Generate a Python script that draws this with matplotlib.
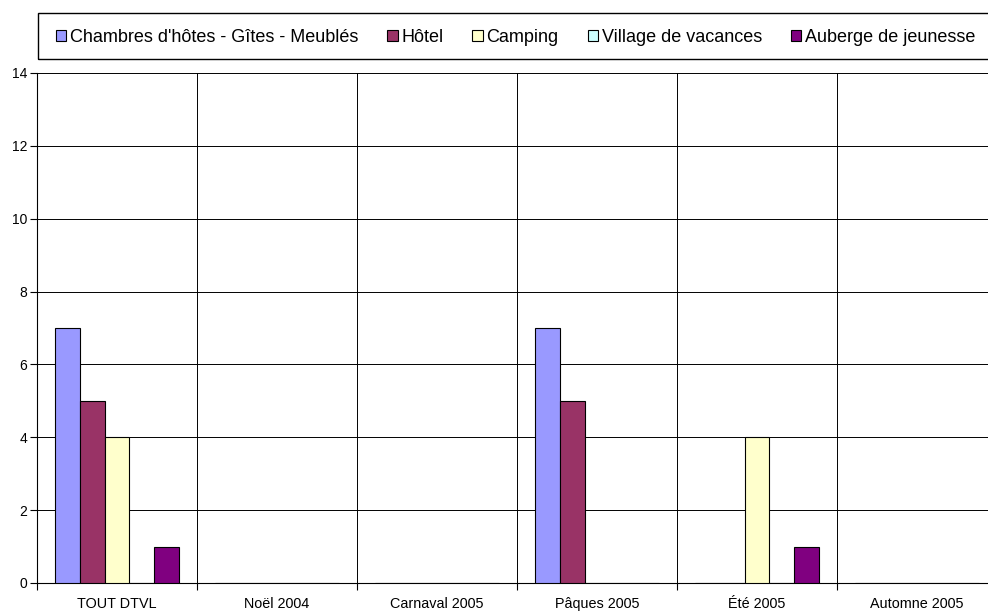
import numpy as np
import matplotlib
matplotlib.use('Agg')
import matplotlib.pyplot as plt
from matplotlib.patches import Rectangle, Patch

plt.rcParams['font.family'] = ['Liberation Sans', 'DejaVu Sans']

categories = ['TOUT DTVL', 'Noël 2004', 'Carnaval 2005', 'Pâques 2005', 'Été 2005', 'Automne 2005']
series_names = ['Chambres d\'hôtes - Gîtes - Meublés', 'Hôtel', 'Camping',
                'Village de vacances', 'Auberge de jeunesse']
chambres = [7, 0, 0, 7, 0, 0]
hotel = [5, 0, 0, 5, 0, 0]
camping = [4, 0, 0, 0, 4, 0]
village = [0, 0, 0, 0, 0, 0]
auberge = [1, 0, 0, 0, 1, 0]
colors = ['#9999FF', '#993366', '#FFFFCC', '#CCFFFF', '#800080']

all_series = [chambres, hotel, camping, village, auberge]

fig = plt.figure(figsize=(9.88, 6.11), dpi=100)
W, H = 988.0, 611.0
ax = fig.add_axes([37 / W, 1 - 583 / H, 960 / W, 510 / H])

n = len(categories)
x = np.arange(n)
bw = 1 / 6.5
start = x + 0.75 / 6.5
for j, vals in enumerate(all_series):
    ax.bar(start + j * bw, vals, width=bw, align='edge', color=colors[j],
           edgecolor='black', linewidth=0.8, zorder=3)

ax.set_xlim(0, n)
ax.set_ylim(0, 14)
ax.set_yticks(np.arange(0, 15, 2))
ax.set_xticks(x + 0.5)
ax.set_xticklabels(categories)
ax.set_xticks(np.arange(0, n + 1), minor=True)
ax.tick_params(axis='x', which='major', length=0, labelsize=10.4, pad=10)
ax.tick_params(axis='x', which='minor', length=5, width=0.8, direction='out')
ax.tick_params(axis='y', length=5, width=0.8, labelsize=10, pad=2)
ax.grid(axis='y', which='major', color='black', linewidth=0.7, zorder=0)
ax.grid(axis='x', which='minor', color='black', linewidth=0.7, zorder=0)
for s in ['top', 'right']:
    ax.spines[s].set_visible(False)
for s in ['left', 'bottom']:
    ax.spines[s].set_linewidth(0.8)

# legend box
fig.patches.append(Rectangle((38 / W, 1 - 59 / H), 1.0, 46 / H, transform=fig.transFigure,
                             fill=False, edgecolor='black', linewidth=1.0))
handles = [Patch(facecolor=c, edgecolor='black', linewidth=0.8) for c in colors]
fig.legend(handles, series_names, loc='center left', bbox_to_anchor=(56 / W, 1 - 37 / H),
           ncol=5, frameon=False, fontsize=13, handlelength=0.58, handleheight=0.58,
           handletextpad=0.2, columnspacing=1.6, borderaxespad=0, borderpad=0)

fig.savefig('out.png', dpi=100)
